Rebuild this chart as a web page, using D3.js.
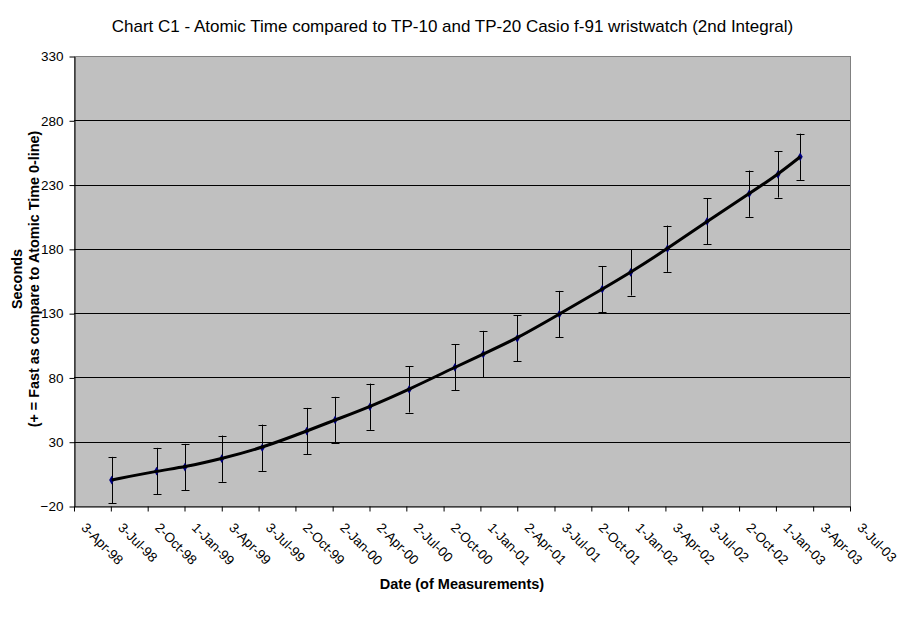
<!DOCTYPE html>
<html>
<head>
<meta charset="utf-8">
<script src="https://cdn.jsdelivr.net/npm/d3@7"></script>
<style>
  html, body { margin: 0; padding: 0; background: #fff; }
  svg { display: block; font-family: "Liberation Sans", Arial, sans-serif; }
</style>
</head>
<body>
<svg id="chart" width="911" height="623"></svg>
<script>
const dates = ["5-Jul-98", "24-Oct-98", "2-Jan-99", "3-Apr-99", "12-Jul-99", "30-Oct-99", "8-Jan-00", "3-Apr-00",
  "9-Jul-00", "30-Oct-00", "8-Jan-01", "2-Apr-01", "15-Jul-01", "29-Oct-01", "7-Jan-02", "8-Apr-02",
  "15-Jul-02", "27-Oct-02", "6-Jan-03", "2-Mar-03"];
const seconds = [0.2, 7.2, 10.3, 16.8, 25.3, 38.3, 46.9, 57.2, 70.7, 87.9, 98.2, 110.4, 129.3, 148.7,
  161.7, 180.1, 201.4, 222.9, 237.9, 251.6];
const errors = [18, 18, 18, 18, 18, 18, 18, 18, 18, 18, 18, 18, 18, 18, 18, 18, 18, 18, 18, 18];
const xTickLabels = ["3-Apr-98", "3-Jul-98", "2-Oct-98", "1-Jan-99", "3-Apr-99", "3-Jul-99", "2-Oct-99", "2-Jan-00",
  "2-Apr-00", "2-Jul-00", "2-Oct-00", "1-Jan-01", "2-Apr-01", "3-Jul-01", "2-Oct-01", "1-Jan-02",
  "3-Apr-02", "3-Jul-02", "2-Oct-02", "1-Jan-03", "3-Apr-03", "3-Jul-03"];
const yTicks = [-20, 30, 80, 130, 180, 230, 280, 330];

const parse = d3.timeParse("%d-%b-%y");
const points = dates.map((d, i) => ({ date: parse(d), v: seconds[i], e: errors[i] }));
const tickDates = xTickLabels.map(parse);

const svg = d3.select("#chart");
const m = { left: 74, right: 850, top: 56, bottom: 506 };
const font = "'Liberation Sans', Arial, sans-serif";

const x = d3.scaleTime().domain([tickDates[0], tickDates[tickDates.length - 1]]).range([m.left, m.right]);
const y = d3.scaleLinear().domain([-20, 330]).range([m.bottom, m.top]);

// plot area
svg.append("rect").attr("x", m.left + 0.5).attr("y", m.top + 0.5)
  .attr("width", m.right - m.left).attr("height", m.bottom - m.top)
  .attr("fill", "#c0c0c0").attr("stroke", "#808080").attr("stroke-width", 1);

// gridlines
svg.append("g").selectAll("line").data(yTicks.filter(t => t > -20 && t < 330)).join("line")
  .attr("x1", m.left).attr("x2", m.right)
  .attr("y1", d => Math.round(y(d)) + 0.5).attr("y2", d => Math.round(y(d)) + 0.5)
  .attr("stroke", "#000").attr("stroke-width", 1);

// y axis
const yAxis = svg.append("g").attr("transform", `translate(${m.left + 0.5},0.5)`)
  .call(d3.axisLeft(y).tickValues(yTicks).tickSize(5).tickSizeOuter(0).tickPadding(6));
yAxis.select(".domain").attr("stroke", "#000");
yAxis.selectAll("text").attr("font-size", 13.5).attr("fill", "#000").attr("font-family", font);

// x axis
const xAxis = svg.append("g").attr("transform", `translate(0,${m.bottom + 0.5})`)
  .call(d3.axisBottom(x).tickValues(tickDates).tickSize(5).tickSizeOuter(0).tickFormat((d, i) => xTickLabels[i]));
xAxis.select(".domain").attr("stroke", "#000");
xAxis.selectAll("text")
  .attr("font-size", 13.5).attr("fill", "#000").attr("font-family", font)
  .attr("text-anchor", "start").attr("dy", 0).attr("y", 0)
  .attr("transform", "translate(6,22) rotate(45)");

// error bars
const eb = svg.append("g").attr("stroke", "#000").attr("stroke-width", 1);
points.forEach(p => {
  const cx = Math.round(x(p.date)) + 0.5;
  eb.append("line").attr("x1", cx).attr("x2", cx).attr("y1", y(p.v + p.e)).attr("y2", y(p.v - p.e));
  [p.v + p.e, p.v - p.e].forEach(v => {
    eb.append("line").attr("x1", cx - 4).attr("x2", cx + 4)
      .attr("y1", Math.round(y(v)) + 0.5).attr("y2", Math.round(y(v)) + 0.5);
  });
});

// data line
svg.append("path").datum(points)
  .attr("fill", "none").attr("stroke", "#000080").attr("stroke-width", 1.2)
  .attr("d", d3.line().x(d => x(d.date)).y(d => y(d.v)));

svg.append("g").selectAll("path").data(points).join("path")
  .attr("d", d3.symbol().type(d3.symbolDiamond).size(22))
  .attr("transform", d => `translate(${x(d.date)},${y(d.v)})`)
  .attr("fill", "#000080");

// smoothed trend
svg.append("path").datum(points)
  .attr("fill", "none").attr("stroke", "#000").attr("stroke-width", 3)
  .attr("d", d3.line().curve(d3.curveBasis).x(d => x(d.date)).y(d => y(d.v)));

// titles
svg.append("text").attr("x", 452.5).attr("y", 32).attr("text-anchor", "middle")
  .attr("font-size", 17).text("Chart C1 - Atomic Time compared to TP-10 and TP-20 Casio f-91 wristwatch (2nd Integral)");

svg.append("text").attr("x", 462).attr("y", 589).attr("text-anchor", "middle")
  .attr("font-size", 14.5).attr("font-weight", "bold").text("Date (of Measurements)");

const yt = svg.append("text").attr("transform", "translate(0,279) rotate(-90)")
  .attr("text-anchor", "middle").attr("font-size", 14.4).attr("font-weight", "bold");
yt.append("tspan").attr("x", 0).attr("y", 22).text("Seconds");
yt.append("tspan").attr("x", 0).attr("y", 39).text("(+ = Fast as compare to Atomic Time 0-line)");
</script>
</body>
</html>
